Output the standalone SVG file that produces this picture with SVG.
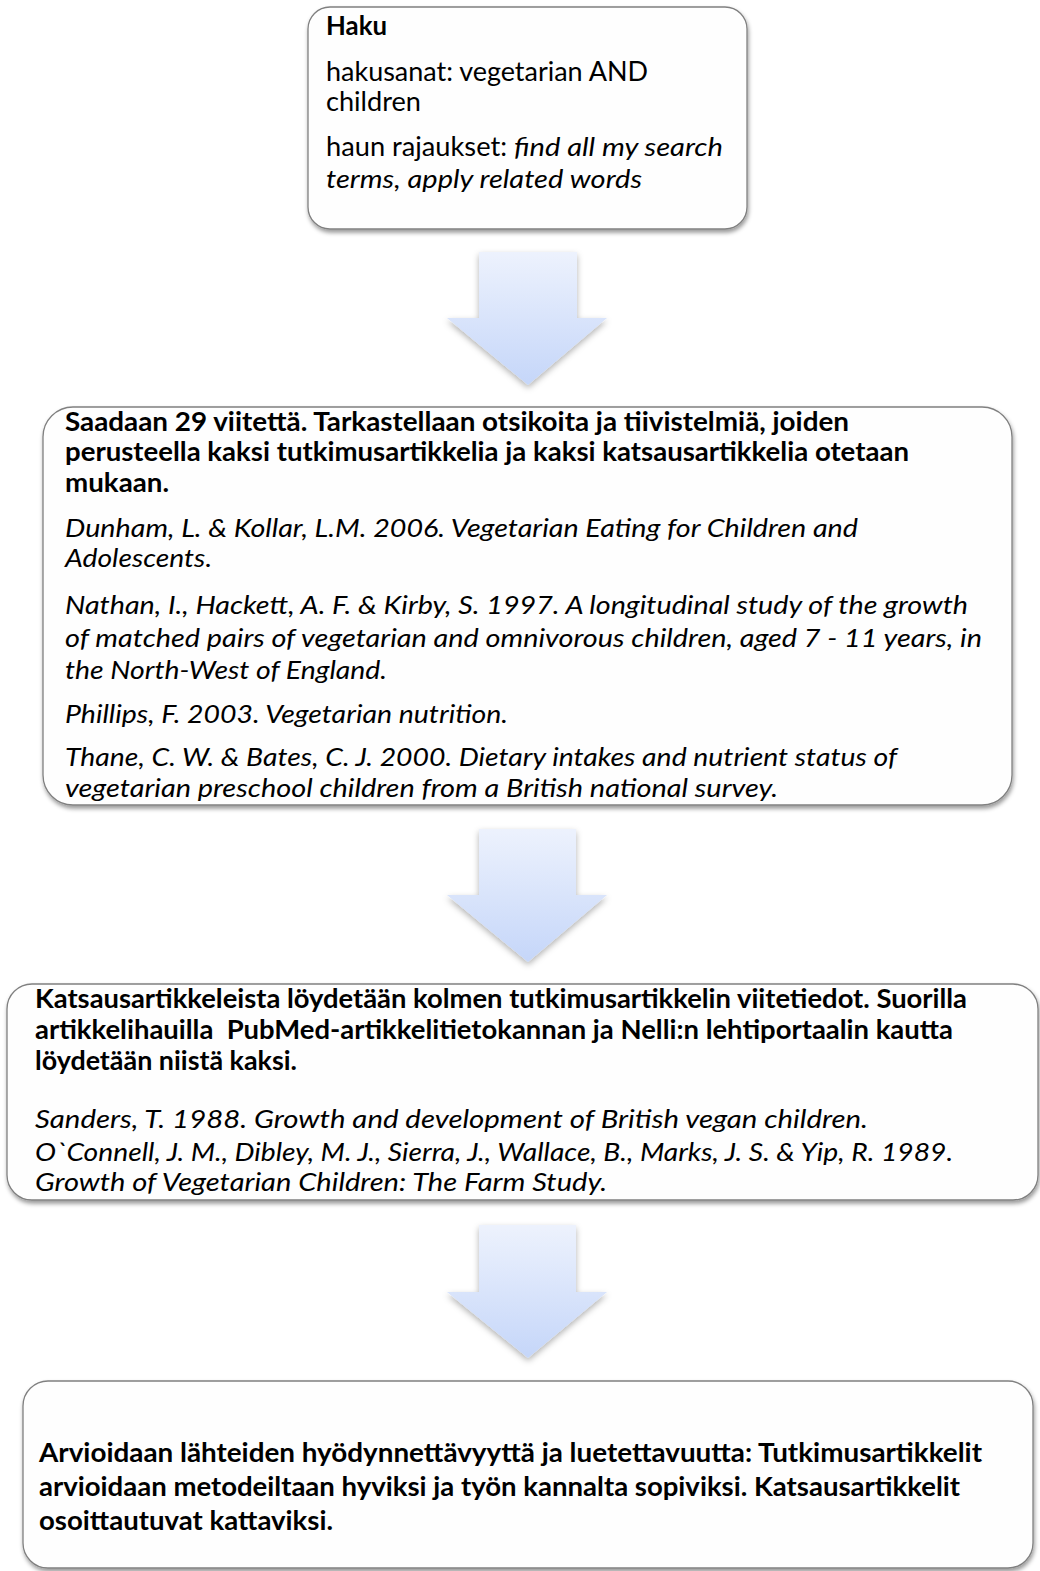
<svg xmlns="http://www.w3.org/2000/svg" width="1040" height="1571" viewBox="0 0 1040 1571">
<defs>
<linearGradient id="ag" x1="0" y1="0" x2="0" y2="1">
<stop offset="0" stop-color="#edf2fd"/>
<stop offset="1" stop-color="#c5d6f9"/>
</linearGradient>
<filter id="bs" x="-5%" y="-5%" width="110%" height="115%">
<feDropShadow dx="1" dy="3" stdDeviation="2" flood-color="#000" flood-opacity="0.4"/>
</filter>
<filter id="as" x="-20%" y="-20%" width="140%" height="140%">
<feDropShadow dx="0" dy="3" stdDeviation="3" flood-color="#000" flood-opacity="0.3"/>
</filter>
</defs>
<style>
.box{fill:#fefefe;stroke:#808080;stroke-width:1.3;filter:url(#bs)}
.arr{fill:url(#ag);filter:url(#as)}
text{font-family:Lato,"Liberation Sans",sans-serif;font-size:26px;fill:#000}
.b{font-weight:bold}
.i{font-style:italic}
</style>
<rect width="1040" height="1571" fill="#fff"/>
<g id="connectors">
<polygon class="arr" points="479,252 577,252 577,318 607,318 528,385 447,318 479,318"/>
<polygon class="arr" points="479,829 576,829 576,895 607,895 528,962 447,895 479,895"/>
<polygon class="arr" points="479,1225 576,1225 576,1292 607,1292 528,1358 447,1292 479,1292"/>
</g>
<g id="node-haku">
<rect class="box" x="308" y="7" width="439" height="222" rx="22"/>
<text class="b" x="326" y="35" textLength="61" lengthAdjust="spacingAndGlyphs">Haku</text>
<text x="326" y="81" textLength="322" lengthAdjust="spacingAndGlyphs">hakusanat: vegetarian AND</text>
<text x="326" y="111" textLength="95" lengthAdjust="spacingAndGlyphs">children</text>
<text x="326" y="156" textLength="181" lengthAdjust="spacingAndGlyphs">haun rajaukset:</text>
<text class="i" x="514" y="156" textLength="209" lengthAdjust="spacingAndGlyphs">find all my search</text>
<text class="i" x="326" y="188" textLength="316" lengthAdjust="spacingAndGlyphs">terms, apply related words</text>
</g>
<g id="node-viitteet">
<rect class="box" x="43" y="407" width="969" height="398" rx="30"/>
<text class="b" x="65" y="431" textLength="784" lengthAdjust="spacingAndGlyphs">Saadaan 29 viitettä. Tarkastellaan otsikoita ja tiivistelmiä, joiden</text>
<text class="b" x="65" y="461" textLength="844" lengthAdjust="spacingAndGlyphs">perusteella kaksi tutkimusartikkelia ja kaksi katsausartikkelia otetaan</text>
<text class="b" x="65" y="492" textLength="104" lengthAdjust="spacingAndGlyphs">mukaan.</text>
<text class="i" x="65" y="537" textLength="793" lengthAdjust="spacingAndGlyphs">Dunham, L. &amp; Kollar, L.M. 2006. Vegetarian Eating for Children and</text>
<text class="i" x="65" y="567" textLength="147" lengthAdjust="spacingAndGlyphs">Adolescents.</text>
<text class="i" x="65" y="614" textLength="903" lengthAdjust="spacingAndGlyphs">Nathan, I., Hackett, A. F. &amp; Kirby, S. 1997. A longitudinal study of the growth</text>
<text class="i" x="65" y="647" textLength="917" lengthAdjust="spacingAndGlyphs">of matched pairs of vegetarian and omnivorous children, aged 7 - 11 years, in</text>
<text class="i" x="65" y="679" textLength="322" lengthAdjust="spacingAndGlyphs">the North-West of England.</text>
<text class="i" x="65" y="723" textLength="443" lengthAdjust="spacingAndGlyphs">Phillips, F. 2003. Vegetarian nutrition.</text>
<text class="i" x="65" y="766" textLength="832" lengthAdjust="spacingAndGlyphs">Thane, C. W. &amp; Bates, C. J. 2000. Dietary intakes and nutrient status of</text>
<text class="i" x="65" y="797" textLength="713" lengthAdjust="spacingAndGlyphs">vegetarian preschool children from a British national survey.</text>
</g>
<g id="node-katsaus">
<rect class="box" x="7" y="984" width="1031" height="216" rx="25"/>
<text class="b" x="35" y="1008" textLength="932" lengthAdjust="spacingAndGlyphs">Katsausartikkeleista löydetään kolmen tutkimusartikkelin viitetiedot. Suorilla</text>
<text class="b" x="35" y="1039" textLength="918" lengthAdjust="spacingAndGlyphs" xml:space="preserve">artikkelihauilla  PubMed-artikkelitietokannan ja Nelli:n lehtiportaalin kautta</text>
<text class="b" x="35" y="1070" textLength="262" lengthAdjust="spacingAndGlyphs">löydetään niistä kaksi.</text>
<text class="i" x="35" y="1128" textLength="833" lengthAdjust="spacingAndGlyphs">Sanders, T. 1988. Growth and development of British vegan children.</text>
<text class="i" x="35" y="1161" textLength="918" lengthAdjust="spacingAndGlyphs">O`Connell, J. M., Dibley, M. J., Sierra, J., Wallace, B., Marks, J. S. &amp; Yip, R. 1989.</text>
<text class="i" x="35" y="1191" textLength="572" lengthAdjust="spacingAndGlyphs">Growth of Vegetarian Children: The Farm Study.</text>
</g>
<g id="node-arviointi">
<rect class="box" x="23" y="1381" width="1010" height="187" rx="25"/>
<text class="b" x="39" y="1462" textLength="943" lengthAdjust="spacingAndGlyphs">Arvioidaan lähteiden hyödynnettävyyttä ja luetettavuutta: Tutkimusartikkelit</text>
<text class="b" x="39" y="1496" textLength="921" lengthAdjust="spacingAndGlyphs">arvioidaan metodeiltaan hyviksi ja työn kannalta sopiviksi. Katsausartikkelit</text>
<text class="b" x="39" y="1530" textLength="294" lengthAdjust="spacingAndGlyphs">osoittautuvat kattaviksi.</text>
</g>
</svg>
